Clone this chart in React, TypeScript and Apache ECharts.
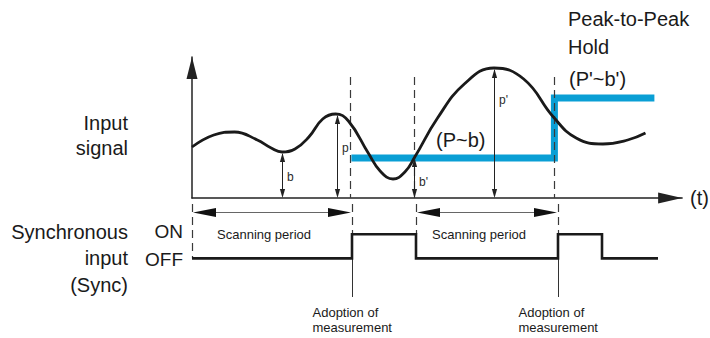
import React, { useEffect, useRef } from 'react';
import * as echarts from 'echarts';

const FONT = '"Liberation Sans", Arial, sans-serif';

// Input signal over time (t = time units, level = signal units, 0 on the time axis)
const signalTime = [0, 22, 43, 66, 80, 91, 104, 118, 132, 145, 158, 178, 190, 203, 215, 225, 248, 275, 305, 335, 365, 388, 415, 440, 458];
const signalLevel = [51, 63, 66, 58, 50, 46, 49, 61, 79, 84, 77, 45, 27, 19, 26, 41, 80, 114, 130, 119, 81, 60, 54, 58, 65];

// Peak-to-peak hold output
const holdTime = [161, 366, 467];
const holdLevel = [40, 100, 100];

// Synchronous input (1 = ON, 0 = OFF)
const syncTime = [0, 160, 224, 366, 410, 466];
const syncState = [0, 1, 0, 1, 0, 0];

// Sync edges / adoption of measurement
const edgeTimes = [160, 224, 366];
const adoptionTimes = [160, 366];
const dashTopLevel = 121;

// Measurements b, p, b', p'
const measureTime = [91, 146, 224, 305];
const measureLevel = [46, 84, 41, 130];
const measureLabel = ['b', 'p', "b'", "p'"];
const measureLabelLevel = [21, 50, 16, 98];

// Scanning periods
const scanStart = [0, 224];
const scanEnd = [160, 366];
const scanArrowLevel = 1.9;

const tMax = 495;
const levelMax = 141;
const syncMin = -1.6;
const syncMax = 2.5;

const BLACK = '#1a1a1a';
const BLUE = '#0a9fd5';

function App() {
  const ref = useRef<HTMLDivElement>(null);
  useEffect(() => {
    document.body.style.margin = '0';
    if (!ref.current) return;
    const chart = echarts.init(ref.current, undefined, { renderer: 'svg' });

    const text = (x: number, y: number, t: string, size: number, align: string, lineHeight?: number, color = BLACK) => ({
      type: 'text',
      x,
      y,
      silent: true,
      style: {
        text: t,
        fill: color,
        font: `${size}px ${FONT}`,
        textAlign: align,
        align,
        textVerticalAlign: 'middle',
        verticalAlign: 'middle',
        lineHeight: lineHeight || size * 1.2,
      },
    });

    const option: any = {
      animation: false,
      grid: [
        { left: 192, top: 57, width: 495, height: 141 },
        { left: 192, top: 198, width: 495, height: 99 },
      ],
      xAxis: [
        {
          gridIndex: 0, type: 'value', min: 0, max: tMax,
          axisLine: { show: true, lineStyle: { color: '#222', width: 1.5 }, symbol: ['none', 'triangle'], symbolSize: [11, 24], symbolOffset: [0, -12] },
          axisTick: { show: false }, axisLabel: { show: false }, splitLine: { show: false },
          name: '(t)', nameLocation: 'end', nameGap: 8,
          nameTextStyle: { fontSize: 20, fontFamily: FONT, color: BLACK, verticalAlign: 'middle' },
        },
        { gridIndex: 1, type: 'value', min: 0, max: tMax, show: false },
      ],
      yAxis: [
        {
          gridIndex: 0, type: 'value', min: 0, max: levelMax,
          axisLine: { show: true, lineStyle: { color: '#222', width: 1.5 }, symbol: ['none', 'triangle'], symbolSize: [11, 22], symbolOffset: [0, -11] },
          axisTick: { show: false }, axisLabel: { show: false }, splitLine: { show: false },
        },
        { gridIndex: 1, type: 'value', min: syncMin, max: syncMax, show: false },
      ],
      graphic: [
        text(128, 135, 'Input\nsignal', 20, 'right', 25),
        text(128, 258, 'Synchronous\ninput\n(Sync)', 20, 'right', 26.5),
        text(183, 231, 'ON', 19, 'right'),
        text(183, 259, 'OFF', 19, 'right'),
        text(568, 33, 'Peak-to-Peak\nHold', 20, 'left', 28),
        text(569, 79, "(P'~b')", 20, 'left'),
        text(436, 140, '(P~b)', 20, 'left'),
      ],
      series: [
        {
          type: 'line', xAxisIndex: 0, yAxisIndex: 0, z: 1,
          data: holdTime.map((t, i) => [t, holdLevel[i]]),
          step: 'end', symbol: 'none',
          lineStyle: { color: BLUE, width: 7, cap: 'butt', join: 'miter' },
        },
        {
          type: 'line', xAxisIndex: 0, yAxisIndex: 0, z: 3,
          data: signalTime.map((t, i) => [t, signalLevel[i]]),
          smooth: 0.45, symbol: 'none',
          lineStyle: { color: BLACK, width: 2.8 },
        },
        {
          type: 'line', xAxisIndex: 1, yAxisIndex: 1, z: 3,
          data: syncTime.map((t, i) => [t, syncState[i]]),
          step: 'end', symbol: 'none',
          lineStyle: { color: BLACK, width: 2.6, join: 'miter' },
        },
        // dashed edge lines in the signal area
        {
          type: 'custom', xAxisIndex: 0, yAxisIndex: 0, z: 2,
          data: edgeTimes.map((t) => [t, dashTopLevel, 0]),
          renderItem: (_p: any, api: any) => {
            const a = api.coord([api.value(0), api.value(1)]);
            const b = api.coord([api.value(0), api.value(2)]);
            const x = Math.round(a[0]) + 0.5;
            return { type: 'line', shape: { x1: x, y1: a[1], x2: x, y2: b[1] }, style: { stroke: '#3a3a3a', lineWidth: 1.2, lineDash: [8, 5] } };
          },
        },
        // dashed edge lines in the sync area
        {
          type: 'custom', xAxisIndex: 1, yAxisIndex: 1, z: 2,
          data: [0, ...edgeTimes].map((t, i) => [t, syncMax, i === 0 ? syncState[0] : 1]),
          renderItem: (_p: any, api: any) => {
            const a = api.coord([api.value(0), api.value(1)]);
            const b = api.coord([api.value(0), api.value(2)]);
            const x = Math.round(a[0]) + 0.5;
            return { type: 'line', shape: { x1: x, y1: a[1] + 6, x2: x, y2: b[1] }, style: { stroke: '#3a3a3a', lineWidth: 1.2, lineDash: [8, 5] } };
          },
        },
        // measurement arrows b, p, b', p'
        {
          type: 'custom', xAxisIndex: 0, yAxisIndex: 0, z: 4,
          data: measureTime.map((t, i) => [t, 0, measureLevel[i]]),
          renderItem: (p: any, api: any) => {
            const i = p.dataIndex;
            const bot = api.coord([api.value(0), api.value(1)]);
            const top = api.coord([api.value(0), api.value(2)]);
            const lab = api.coord([api.value(0), measureLabelLevel[i]]);
            const x = Math.round(bot[0]) + 0.5;
            const hw = 2.6, hl = 9;
            return {
              type: 'group',
              children: [
                { type: 'line', shape: { x1: x, y1: top[1] + 2, x2: x, y2: bot[1] - 2 }, style: { stroke: '#222', lineWidth: 1 } },
                { type: 'polygon', shape: { points: [[x, top[1] + 1], [x - hw, top[1] + 1 + hl], [x + hw, top[1] + 1 + hl]] }, style: { fill: '#222' } },
                { type: 'polygon', shape: { points: [[x, bot[1]], [x - hw, bot[1] - hl], [x + hw, bot[1] - hl]] }, style: { fill: '#222' } },
                { type: 'text', x: x + 4.5, y: lab[1], style: { text: measureLabel[i], fill: '#2a2a2a', font: `12px ${FONT}`, align: 'left', verticalAlign: 'middle' } },
              ],
            };
          },
        },
        // scanning period arrows
        {
          type: 'custom', xAxisIndex: 1, yAxisIndex: 1, z: 4,
          data: scanStart.map((s, i) => [s, scanArrowLevel, scanEnd[i]]),
          renderItem: (_p: any, api: any) => {
            const a = api.coord([api.value(0), api.value(1)]);
            const b = api.coord([api.value(2), api.value(1)]);
            const mid = api.coord([(api.value(0) + api.value(2)) / 2, 1]);
            const y = Math.round(a[1]) + 0.5;
            const hw = 4.5, hl = 23;
            return {
              type: 'group',
              children: [
                { type: 'line', shape: { x1: a[0] + hl, y1: y, x2: b[0] - hl, y2: y }, style: { stroke: '#666', lineWidth: 1 } },
                { type: 'polygon', shape: { points: [[a[0] + 1, y], [a[0] + 1 + hl, y - hw], [a[0] + 1 + hl, y + hw]] }, style: { fill: '#111' } },
                { type: 'polygon', shape: { points: [[b[0] - 1, y], [b[0] - 1 - hl, y - hw], [b[0] - 1 - hl, y + hw]] }, style: { fill: '#111' } },
                { type: 'text', x: mid[0] - 8, y: mid[1], style: { text: 'Scanning period', fill: BLACK, font: `13px ${FONT}`, align: 'center', verticalAlign: 'middle' } },
              ],
            };
          },
        },
        // adoption of measurement lines
        {
          type: 'custom', xAxisIndex: 1, yAxisIndex: 1, z: 2,
          data: adoptionTimes.map((t) => [t, 0, syncMin]),
          renderItem: (_p: any, api: any) => {
            const a = api.coord([api.value(0), api.value(1)]);
            const b = api.coord([api.value(0), api.value(2)]);
            const x = Math.round(a[0]) + 0.5;
            return {
              type: 'group',
              children: [
                { type: 'line', shape: { x1: x, y1: a[1], x2: x, y2: b[1] }, style: { stroke: '#333', lineWidth: 1 } },
                { type: 'text', x: x - 40, y: b[1] + 8, style: { text: 'Adoption of\nmeasurement', fill: BLACK, font: `13px ${FONT}`, align: 'left', verticalAlign: 'top', lineHeight: 15 } },
              ],
            };
          },
        },
      ],
    };
    chart.setOption(option);
    return () => chart.dispose();
  }, []);
  return <div ref={ref} style={{ width: 710, height: 338 }} />;
}

export default App;
